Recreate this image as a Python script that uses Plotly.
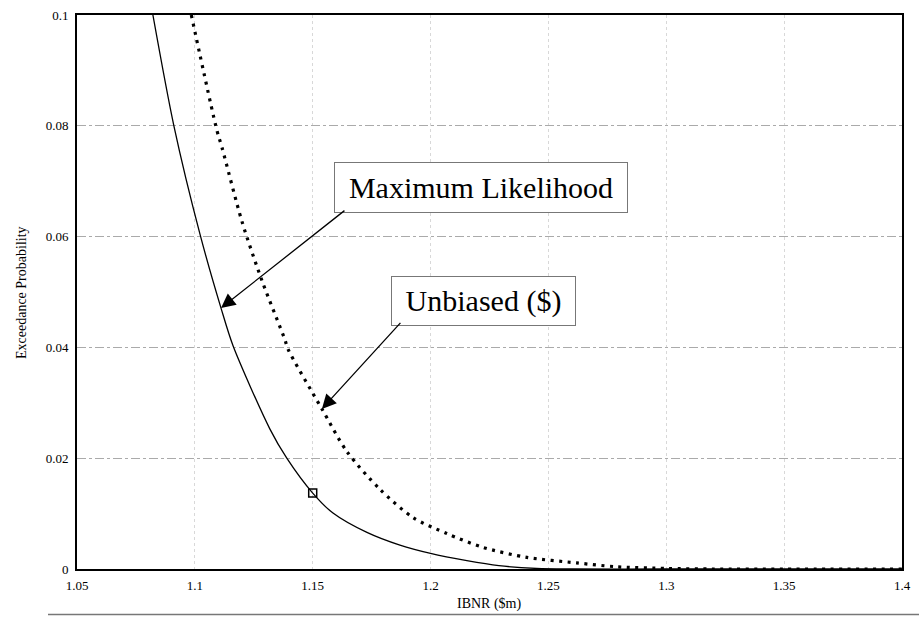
import plotly.graph_objects as go

# ---- data ----
ml_x = [1.0822, 1.0911, 1.1022, 1.1111, 1.1162, 1.1318, 1.139, 1.15, 1.1586, 1.173,
        1.187, 1.200, 1.2154, 1.229, 1.245, 1.26, 1.30, 1.35, 1.40]
ml_y = [0.1, 0.080, 0.0604, 0.0471, 0.0403, 0.0253, 0.0200, 0.0137, 0.0101, 0.0066,
        0.0043, 0.0028, 0.0015, 0.0006, 0.0001, 0.0, 0.0, 0.0, 0.0]

ub_x = [1.0985, 1.1094, 1.1115, 1.12, 1.1285, 1.1382, 1.1395, 1.1539, 1.1645, 1.1785,
        1.1925, 1.2069, 1.2222, 1.2408, 1.262, 1.279, 1.30, 1.32, 1.35, 1.40]
ub_y = [0.1, 0.0791, 0.0761, 0.0627, 0.0520, 0.0414, 0.0397, 0.0289, 0.0212, 0.0144,
        0.0093, 0.0064, 0.0039, 0.0021, 0.0011, 0.0004, 0.0001, 0.0, 0.0, 0.0]

marker_x = [1.15]
marker_y = [0.0137]

x_ticks = [1.05, 1.1, 1.15, 1.2, 1.25, 1.3, 1.35, 1.4]
x_tick_text = ["1.05", "1.1", "1.15", "1.2", "1.25", "1.3", "1.35", "1.4"]
y_ticks = [0, 0.02, 0.04, 0.06, 0.08, 0.1]
y_tick_text = ["0", "0.02", "0.04", "0.06", "0.08", "0.1"]

label_ml = "Maximum Likelihood"
label_ub = "Unbiased ($)"
x_title = "IBNR ($m)"
y_title = "Exceedance Probability"

# annotation anchor points (data coords)
ml_box = (1.2213, 0.0689)
ml_tail = (1.1641, 0.0649)
ml_tip = (1.1111, 0.0471)
ub_box = (1.2224, 0.0483)
ub_tail = (1.1878, 0.0447)
ub_tip = (1.1539, 0.0289)

FONT = "Liberation Serif"

fig = go.Figure()
fig.add_trace(go.Scatter(x=ml_x, y=ml_y, mode="lines",
                         line=dict(color="black", width=1.3, shape="spline", smoothing=0.8),
                         showlegend=False))
fig.add_trace(go.Scatter(x=ub_x, y=ub_y, mode="lines",
                         line=dict(color="black", width=3.2, dash="3px,5.5px",
                                   shape="spline", smoothing=0.8),
                         showlegend=False))
fig.add_trace(go.Scatter(x=marker_x, y=marker_y, mode="markers",
                         marker=dict(symbol="square-open", size=8, color="black",
                                     line=dict(width=1.5)), showlegend=False))

annotations = [
    dict(x=ml_box[0], y=ml_box[1], xref="x", yref="y", text=label_ml, showarrow=False,
         font=dict(family=FONT, size=30, color="black"), bgcolor="white",
         bordercolor="#777", borderwidth=1, borderpad=4, width=284, height=41),
    dict(x=ub_box[0], y=ub_box[1], xref="x", yref="y", text=label_ub, showarrow=False,
         font=dict(family=FONT, size=30, color="black"), bgcolor="white",
         bordercolor="#777", borderwidth=1, borderpad=4, width=175, height=40),
    dict(x=ml_tip[0], y=ml_tip[1], ax=ml_tail[0], ay=ml_tail[1], xref="x", yref="y",
         axref="x", ayref="y", text="", showarrow=True, arrowhead=2, arrowsize=2.2,
         arrowwidth=1.3, arrowcolor="black", standoff=0),
    dict(x=ub_tip[0], y=ub_tip[1], ax=ub_tail[0], ay=ub_tail[1], xref="x", yref="y",
         axref="x", ayref="y", text="", showarrow=True, arrowhead=2, arrowsize=2.2,
         arrowwidth=1.3, arrowcolor="black", standoff=0),
    dict(x=0.5, y=-0.064, xref="paper", yref="paper", text=x_title, showarrow=False,
         font=dict(family=FONT, size=14, color="black"), yanchor="middle"),
    dict(x=-(77 - 21) / 825, y=0.5, xref="paper", yref="paper", text=y_title,
         showarrow=False, textangle=-90,
         font=dict(family=FONT, size=14, color="black"), xanchor="center"),
]

fig.update_layout(
    width=919, height=617,
    margin=dict(l=77, r=17, t=8, b=48),
    paper_bgcolor="white", plot_bgcolor="white",
    font=dict(family=FONT, size=13, color="black"),
    annotations=annotations,
    shapes=[dict(type="line", xref="paper", yref="paper",
                 x0=-(77 - 48) / 825, x1=1.03, y0=-0.082, y1=-0.082,
                 line=dict(color="#777", width=1.5))],
)
fig.update_xaxes(range=[1.05, 1.4], tickvals=x_ticks, ticktext=x_tick_text,
                 showline=True, linecolor="black", linewidth=2, mirror=True,
                 showgrid=True, gridcolor="#d8d8d8", griddash="dot", gridwidth=1,
                 zeroline=False, ticks="outside", ticklen=3,
                 tickcolor="rgba(0,0,0,0)", tickfont=dict(family=FONT, size=13))
fig.update_yaxes(range=[0, 0.1], tickvals=y_ticks, ticktext=y_tick_text,
                 showline=True, linecolor="black", linewidth=2, mirror=True,
                 showgrid=True, gridcolor="#aaa", griddash="dashdot", gridwidth=1,
                 zeroline=False, ticks="outside", ticklen=4,
                 tickcolor="rgba(0,0,0,0)", tickfont=dict(family=FONT, size=13))

fig.write_html("out.html")
